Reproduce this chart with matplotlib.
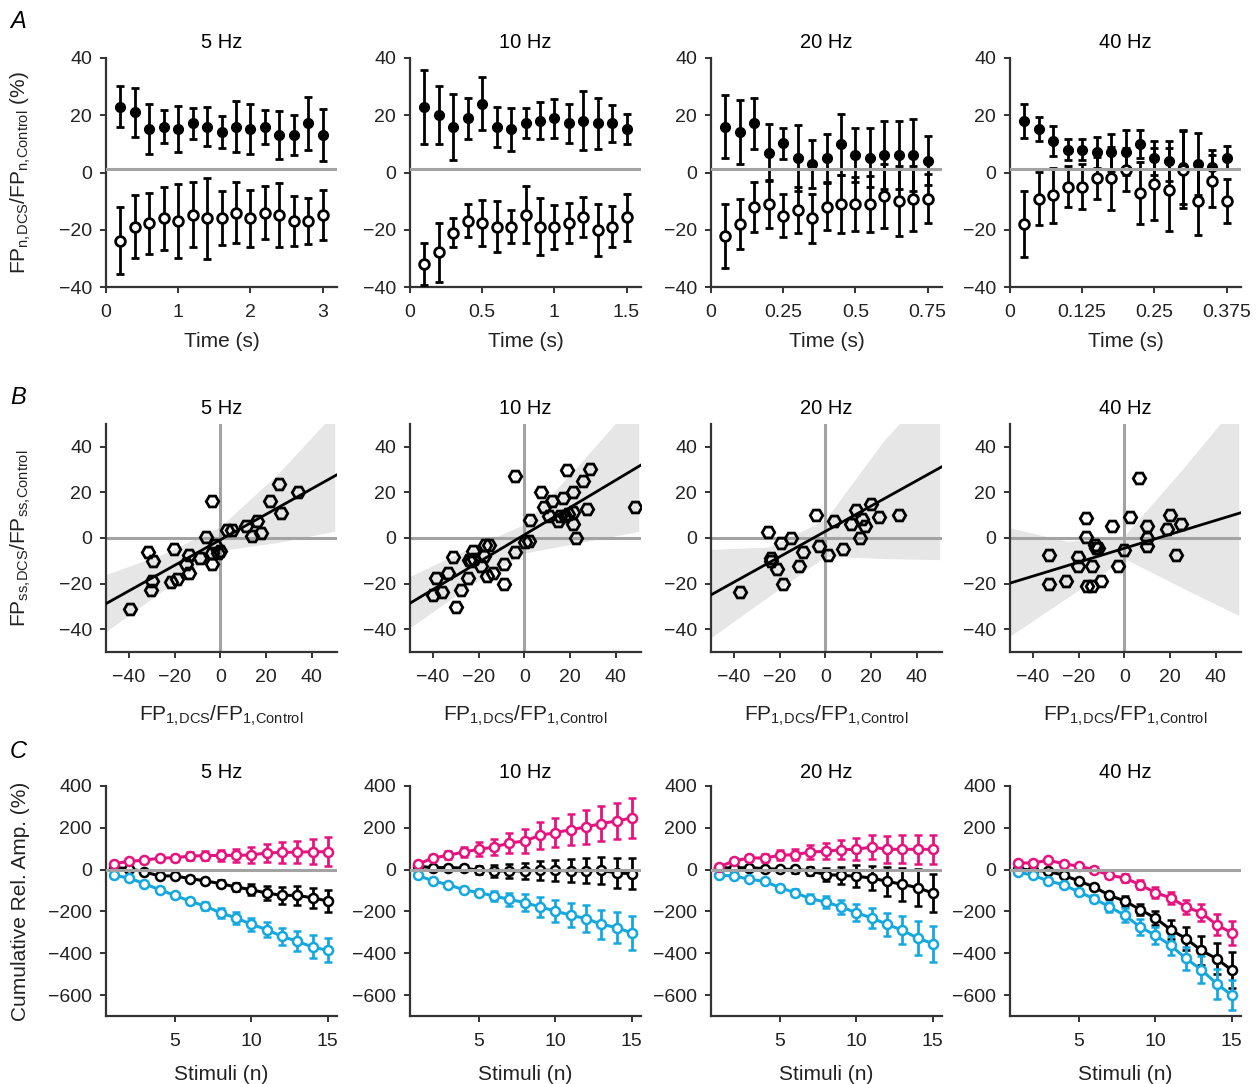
import numpy as np
import matplotlib
matplotlib.use("Agg")
import matplotlib.pyplot as plt

plt.rcParams['font.family'] = ['Liberation Sans', 'DejaVu Sans']
plt.rcParams['mathtext.default'] = 'regular'

# ---------------- data ----------------
freqs = [5, 10, 20, 40]
titles = ["5 Hz", "10 Hz", "20 Hz", "40 Hz"]
stim = np.arange(1, 16)

# Row A: normalized FP per stimulus (filled = positive group, open = negative group)
A5_pos = [23.0, 21.0, 15.2, 16.0, 15.2, 17.2, 16.0, 14.0, 16.0, 15.2, 16.0, 13.1, 13.1, 17.2, 13.1]
A5_pos_err = [7.2, 8.6, 8.7, 5.8, 8.1, 5.5, 6.9, 5.6, 8.9, 8.6, 6.0, 8.4, 6.9, 9.3, 9.2]
A5_neg = [-23.8, -18.9, -17.7, -16.0, -16.9, -14.8, -16.0, -16.0, -14.0, -16.0, -14.0, -14.8, -16.9, -16.9, -14.8]
A5_neg_err = [11.8, 11.0, 10.7, 10.9, 12.8, 11.4, 14.2, 9.5, 10.6, 9.9, 9.2, 11.3, 8.7, 8.1, 8.7]

A10_pos = [22.9, 20.1, 16.0, 18.9, 24.1, 16.0, 15.1, 17.2, 18.1, 18.9, 17.2, 18.1, 17.2, 17.2, 15.1]
A10_pos_err = [12.8, 10.2, 11.5, 7.1, 9.2, 7.0, 7.6, 5.3, 6.5, 6.8, 6.9, 10.2, 8.9, 6.5, 5.2]
A10_neg = [-31.9, -27.9, -21.0, -16.9, -17.7, -18.9, -18.9, -14.8, -18.9, -18.9, -17.7, -15.7, -20.1, -18.9, -15.7]
A10_neg_err = [7.4, 10.4, 5.2, 5.8, 8.0, 8.9, 5.8, 10.0, 9.9, 7.7, 7.0, 7.0, 9.1, 7.3, 8.1]

A20_pos = [16.0, 14.0, 17.2, 6.9, 10.2, 5.2, 3.0, 5.2, 9.9, 6.1, 5.2, 6.1, 6.1, 6.1, 4.1]
A20_pos_err = [11.1, 11.2, 9.0, 10.0, 5.5, 11.5, 8.3, 8.4, 10.6, 9.3, 10.3, 11.8, 11.8, 12.5, 8.5]
A20_neg = [-22.1, -18.0, -12.0, -11.0, -15.1, -13.1, -16.0, -12.0, -11.0, -11.0, -11.0, -8.1, -10.0, -9.1, -9.1]
A20_neg_err = [11.1, 8.6, 8.8, 8.3, 7.6, 8.0, 8.5, 8.2, 10.3, 9.3, 9.7, 11.2, 12.2, 11.5, 8.7]

A40_pos = [17.9, 15.1, 11.0, 8.0, 8.0, 7.0, 7.0, 7.0, 9.9, 5.1, 4.1, 2.0, 3.0, 2.0, 5.1]
A40_pos_err = [6.0, 4.2, 5.1, 3.6, 3.8, 5.5, 6.4, 8.0, 5.0, 6.0, 6.9, 13.0, 10.7, 6.0, 4.0]
A40_neg = [-18.0, -9.1, -7.9, -5.0, -5.0, -1.9, -2.0, 1.0, -7.1, -4.1, -6.1, 1.0, -10.0, -2.9, -10.0]
A40_neg_err = [11.5, 9.3, 9.6, 7.2, 7.8, 7.2, 11.0, 7.5, 10.8, 12.5, 14.5, 13.5, 11.9, 9.1, 7.8]

A_xticks = [[0, 1, 2, 3], [0, 0.5, 1, 1.5], [0, 0.25, 0.5, 0.75], [0, 0.125, 0.25, 0.375]]
A_xticklabels = [["0", "1", "2", "3"], ["0", "0.5", "1", "1.5"],
                 ["0", "0.25", "0.5", "0.75"], ["0", "0.125", "0.25", "0.375"]]

# Row B: scatter FP1 vs FPss, fitted line and band
B5_x = [-39.3, -31.5, -29.3, -30.0, -30.3, -20.2, -21.7, -18.8, -13.9, -14.9, -13.9, -8.8, -6.2, -3.7, -3.7,
        -3.7, -2.2, -1.2, -0.3, 2.9, 5.1, 11.4, 13.9, 16.1, 17.9, 21.5, 25.6, 26.4, 34.1]
B5_y = [-31.3, -6.3, -10.2, -18.7, -22.9, -4.8, -19.2, -17.8, -7.3, -11.2, -15.3, -8.7, 0.4, 16.3, -6.6,
        -11.4, -2.9, -6.6, -5.8, 3.6, 3.6, 5.1, 0.7, 7.3, 2.2, 16.3, 23.8, 10.9, 20.1]
B10_x = [-40.1, -38.7, -36.1, -33.6, -31.2, -30.0, -27.5, -24.6, -24.2, -23.2, -22.3, -22.0, -19.1, -17.7,
         -17.0, -15.5, -16.5, -13.6, -9.0, -9.0, -3.9, -3.9, 0.4, 1.9, 2.6, 7.2, 8.4, 12.0, 10.9, 14.9, 15.7,
         17.1, 17.8, 18.6, 19.3, 21.2, 21.2, 21.2, 22.5, 25.8, 27.2, 28.7, 48.3]
B10_y = [-25.1, -17.5, -23.8, -15.3, -8.5, -30.2, -22.6, -17.5, -9.5, -10.2, -5.8, -9.2, -12.4, -7.7,
         -2.9, -2.9, -16.8, -15.3, -11.2, -20.1, -6.3, 27.4, -1.9, -1.5, 7.7, 20.1, 13.6, 16.3, 9.5, 7.3, 9.5,
         17.5, 9.5, 29.9, 10.5, 20.1, 6.1, 11.2, 0.0, 25.1, 12.7, 30.2, 13.6]
B20_x = [-37.4, -25.1, -23.9, -23.6, -21.0, -19.3, -18.6, -14.9, -11.7, -9.9, -4.1, -2.9, 1.0, 3.6, 7.5,
         11.2, 13.6, 15.2, 16.2, 17.2, 19.9, 23.5, 32.2]
B20_y = [-23.8, 2.5, -8.7, -10.2, -13.8, -2.2, -20.1, 0.0, -12.4, -6.3, 9.9, -3.6, -7.3, 7.6, -4.8,
         6.1, 12.4, 0.0, 8.3, 5.1, 15.0, 9.0, 9.9]
B40_x = [-33.1, -33.1, -25.3, -20.4, -20.4, -16.7, -16.7, -16.3, -14.1, -14.1, -13.0, -12.3, -11.4, -10.0,
         -5.3, -2.8, -0.1, 2.5, 6.2, 9.8, 9.8, 9.8, 18.6, 19.9, 22.6, 24.8]
B40_y = [-7.3, -20.0, -18.7, -8.5, -12.4, 8.7, 0.4, -21.1, -21.1, -12.4, -2.9, -4.4, -4.4, -19.0,
         5.1, -12.4, -5.1, 9.0, 26.2, 5.1, -3.6, 0.0, 3.9, 9.9, -7.3, 6.3]
B_slope = [0.56, 0.60, 0.557, 0.306]
B_intercept = [-0.8, 1.4, 2.9, -4.5]
B_band_x = [-50, -25, 0, 25, 50]
B5_lo = [-41, -23, -5.5, -2, 3]
B5_hi = [-16, -7, 5, 28, 55]
B10_lo = [-39.4, -21.7, -6.6, -1.9, 2.9]
B10_hi = [-16.8, -5, 6, 33.4, 62]
B20_lo = [-43.7, -25.8, -8, -9, -9.5]
B20_hi = [-5, -4, 8, 42, 70]
B40_lo = [-43, -26.2, -9, -21.7, -34]
B40_hi = [4.4, -1.5, 1, 29.7, 60]

# Row C: cumulative relative amplitude (magenta, black, blue)
C5_m = [28, 40, 45, 55, 57, 65, 67, 68, 68, 70, 80, 82, 84, 85, 86]
C5_m_err = [5, 8, 10, 12, 14, 18, 22, 27, 32, 38, 42, 48, 52, 60, 68]
C5_k = [10, 5, -11, -30, -30, -43, -54, -67, -83, -96, -112, -123, -123, -135, -150]
C5_k_err = [3, 4, 6, 8, 10, 12, 14, 17, 20, 26, 32, 41, 45, 48, 51]
C5_b = [-27, -40, -67, -96, -123, -151, -175, -207, -231, -261, -287, -319, -343, -370, -386]
C5_b_err = [5, 6, 8, 10, 12, 15, 18, 22, 27, 32, 37, 42, 48, 55, 58]

C10_m = [25.5, 55.8, 68.5, 84.5, 97.2, 108, 127.5, 137, 164, 177, 191, 204, 220, 233, 247]
C10_m_err = [8, 12, 20, 25, 34, 40, 48, 57, 63, 69, 75, 80, 85, 88, 94]
C10_k = [16, 9.6, 9.6, 8, -3, -6, -6, -6, -3, -3, -6, -6, -3, -16, -19]
C10_k_err = [3, 5, 8, 12, 20, 28, 35, 40, 45, 50, 55, 60, 65, 70, 74]
C10_b = [-27, -54, -72, -96, -110, -126, -142, -158, -178, -198, -218, -234, -261, -277, -303]
C10_b_err = [4, 6, 10, 13, 18, 24, 32, 40, 48, 53, 58, 64, 70, 76, 82]

C20_m = [12.7, 41.4, 55.8, 55.8, 68.5, 71.7, 84.5, 87.6, 95.6, 97.2, 108, 97.2, 97.2, 97.2, 97.2]
C20_m_err = [8, 12, 16, 20, 24, 28, 33, 39, 45, 52, 58, 64, 67, 69, 70]
C20_k = [9.6, 8, 9.6, 4.8, 1.6, 1.6, -6.4, -24, -27, -32, -40, -56, -70, -86, -112]
C20_k_err = [3, 5, 8, 10, 13, 16, 20, 30, 41, 53, 59, 68, 80, 88, 93]
C20_b = [-27, -30, -46, -56, -86, -110, -139, -155, -178, -206, -231, -261, -290, -327, -354]
C20_b_err = [4, 6, 8, 10, 14, 18, 22, 28, 33, 40, 48, 55, 68, 80, 86]

C40_m = [31.9, 31.9, 44.6, 28.7, 15.9, 0, -27, -40, -72, -110, -135, -178, -206, -263, -303]
C40_m_err = [5, 6, 7, 8, 10, 12, 15, 18, 22, 26, 30, 35, 42, 50, 57]
C40_k = [4.8, -3.2, -8, -27, -54, -83, -123, -150, -191, -231, -287, -330, -386, -426, -481]
C40_k_err = [3, 4, 6, 8, 10, 13, 18, 22, 28, 35, 45, 55, 68, 75, 85]
C40_b = [-11, -27, -54, -72, -107, -139, -178, -218, -274, -314, -362, -425, -478, -545, -601]
C40_b_err = [4, 6, 8, 10, 14, 18, 25, 33, 40, 42, 46, 56, 65, 72, 72]

# ---------------- style ----------------
W, H = 1259, 1084
TXT = '#222222'
SPINE = '#333333'
GRAY = '#a3a3a3'
MAG = '#e6137f'
CYAN = '#15a8e0'
TICK_FS = 14
LAB_FS = 15
TITLE_FS = 14.5

fig = plt.figure(figsize=(W / 100, H / 100), dpi=100)

lefts = [106, 410, 711, 1010]
width = 231


def make_ax(left, top, bottom):
    return fig.add_axes([left / W, 1 - bottom / H, width / W, (bottom - top) / H])


def style(ax):
    for s in ['top', 'right']:
        ax.spines[s].set_visible(False)
    for s in ['left', 'bottom']:
        ax.spines[s].set_color(SPINE)
        ax.spines[s].set_linewidth(1.6)
    ax.tick_params(direction='out', length=4, width=1.4, color=SPINE,
                   labelsize=TICK_FS, labelcolor=TXT)
    ax.tick_params(axis='x', pad=8)
    ax.tick_params(axis='y', pad=6)


def ylab(ax, text):
    ax.set_ylabel(text, fontsize=LAB_FS, color=TXT, va='center')
    ax.yaxis.set_label_coords((21 - 106) / width, 0.5)


# ---------------- Row A ----------------
A_pos = [A5_pos, A10_pos, A20_pos, A40_pos]
A_pos_err = [A5_pos_err, A10_pos_err, A20_pos_err, A40_pos_err]
A_neg = [A5_neg, A10_neg, A20_neg, A40_neg]
A_neg_err = [A5_neg_err, A10_neg_err, A20_neg_err, A40_neg_err]
for i in range(4):
    ax = make_ax(lefts[i], 58, 287)
    style(ax)
    t = stim / freqs[i]
    ax.errorbar(t, A_pos[i], yerr=A_pos_err[i], fmt='o', color='black', ms=7,
                mfc='black', mec='black', elinewidth=2, capsize=3.2, capthick=2, zorder=3)
    ax.errorbar(t, A_neg[i], yerr=A_neg_err[i], fmt='o', color='black', ms=7,
                mfc='white', mec='black', mew=2, elinewidth=2, capsize=3.2, capthick=2, zorder=3)
    ax.axhline(1.2, color=GRAY, lw=2.2, zorder=4)
    ax.set_xlim(0, 16 / freqs[i])
    ax.set_ylim(-40, 40)
    ax.set_yticks([-40, -20, 0, 20, 40])
    ax.set_yticklabels(['\u221240', '\u221220', '0', '20', '40'])
    ax.set_xticks(A_xticks[i])
    ax.set_xticklabels(A_xticklabels[i])
    ax.set_xlabel('Time (s)', fontsize=LAB_FS, color=TXT, labelpad=8)
    ax.set_title(titles[i], fontsize=TITLE_FS, color='black', pad=7)
    if i == 0:
        ylab(ax, r'FP$_{n,\!DCS}$/FP$_{n,\!Control}$ (%)')

# ---------------- Row B ----------------
B_x = [B5_x, B10_x, B20_x, B40_x]
B_y = [B5_y, B10_y, B20_y, B40_y]
B_lo = [B5_lo, B10_lo, B20_lo, B40_lo]
B_hi = [B5_hi, B10_hi, B20_hi, B40_hi]
for i in range(4):
    ax = make_ax(lefts[i], 424, 652)
    style(ax)
    ax.fill_between(B_band_x, B_lo[i], B_hi[i], color='#e6e6e6', lw=0, zorder=1)
    ax.axhline(0, color=GRAY, lw=2.2, zorder=2)
    ax.axvline(0, color=GRAY, lw=2.2, zorder=2)
    xx = np.array([-50, 51])
    ax.plot(xx, B_slope[i] * xx + B_intercept[i], color='black', lw=2, zorder=3)
    ax.plot(B_x[i], B_y[i], 'H', ms=9, mfc='none', mec='black', mew=2, zorder=4)
    ax.set_xlim(-50, 51)
    ax.set_ylim(-50, 50)
    ax.set_xticks([-40, -20, 0, 20, 40])
    ax.set_xticklabels(['\u221240', '\u221220', '0', '20', '40'])
    ax.set_yticks([-40, -20, 0, 20, 40])
    ax.set_yticklabels(['\u221240', '\u221220', '0', '20', '40'])
    ax.set_xlabel(r'FP$_{1,\!DCS}$/FP$_{1,\!Control}$', fontsize=LAB_FS, color=TXT, labelpad=13)
    ax.set_title(titles[i], fontsize=TITLE_FS, color='black', pad=7)
    if i == 0:
        ylab(ax, r'FP$_{ss,\!DCS}$/FP$_{ss,\!Control}$')

# ---------------- Row C ----------------
C_m = [C5_m, C10_m, C20_m, C40_m]
C_m_err = [C5_m_err, C10_m_err, C20_m_err, C40_m_err]
C_k = [C5_k, C10_k, C20_k, C40_k]
C_k_err = [C5_k_err, C10_k_err, C20_k_err, C40_k_err]
C_b = [C5_b, C10_b, C20_b, C40_b]
C_b_err = [C5_b_err, C10_b_err, C20_b_err, C40_b_err]
for i in range(4):
    ax = make_ax(lefts[i], 786, 1016)
    style(ax)
    for vals, errs, col, z in [(C_k[i], C_k_err[i], 'black', 3),
                               (C_b[i], C_b_err[i], CYAN, 4),
                               (C_m[i], C_m_err[i], MAG, 5)]:
        ax.errorbar(stim, vals, yerr=errs, fmt='-o', color=col, lw=2.2, ms=6.5,
                    mfc='white', mec=col, mew=1.8, elinewidth=2, capsize=3, capthick=2, zorder=z)
    ax.axhline(0, color=GRAY, lw=2.2, zorder=6)
    ax.set_xlim(0.5, 15.6)
    ax.set_ylim(-700, 400)
    ax.set_xticks([5, 10, 15])
    ax.set_yticks([-600, -400, -200, 0, 200, 400])
    ax.set_yticklabels(['\u2212600', '\u2212400', '\u2212200', '0', '200', '400'])
    ax.set_xlabel('Stimuli (n)', fontsize=LAB_FS, color=TXT, labelpad=11)
    ax.set_title(titles[i], fontsize=TITLE_FS, color='black', pad=6)
    if i == 0:
        ylab(ax, 'Cumulative Rel. Amp. (%)')

# panel letters
for letter, y in [('A', 22), ('B', 397), ('C', 752)]:
    fig.text(10 / W, 1 - y / H, letter, fontsize=17, style='italic', color='black',
             va='center', ha='left')

fig.savefig('out.png', dpi=100)
